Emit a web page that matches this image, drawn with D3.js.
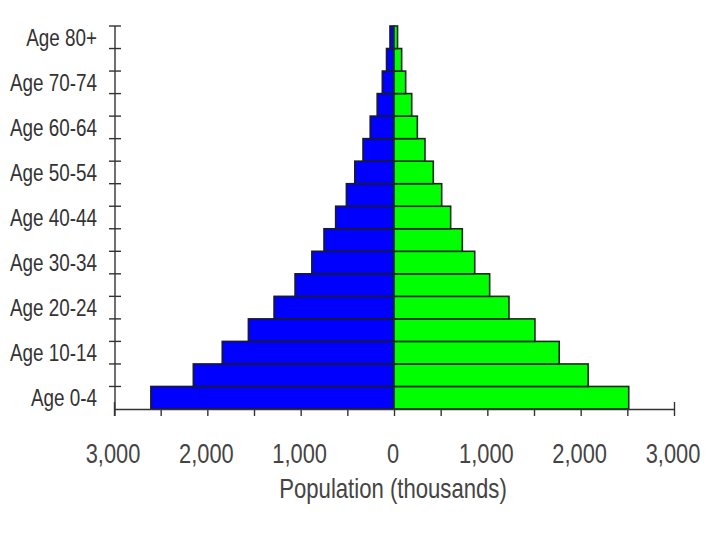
<!DOCTYPE html>
<html>
<head>
<meta charset="utf-8">
<script src="https://cdn.jsdelivr.net/npm/d3@7"></script>
<style>
  html, body { margin: 0; padding: 0; background: #fff; }
  svg { display: block; }
  text { font-family: 'Liberation Sans', Arial, sans-serif; }
</style>
</head>
<body>
<svg id="chart" width="720" height="540"></svg>
<script>
// ---- data (thousands) ----
const ageGroups = ["Age 0-4","Age 5-9","Age 10-14","Age 15-19","Age 20-24","Age 25-29","Age 30-34","Age 35-39",
  "Age 40-44","Age 45-49","Age 50-54","Age 55-59","Age 60-64","Age 65-69","Age 70-74","Age 75-79","Age 80+"];
const male   = [2605, 2150, 1840, 1560, 1285, 1060, 880, 750, 625, 510, 420, 332, 255, 180, 125, 80, 43];
const female = [2515, 2080, 1770, 1510, 1232, 1025, 865, 732, 607, 511, 421, 332, 250, 190, 125, 82, 38];
const xTickValues = [-3000, -2500, -2000, -1500, -1000, -500, 0, 500, 1000, 1500, 2000, 2500, 3000];
const xLabelValues = [-3000, -2000, -1000, 0, 1000, 2000, 3000];
const xTitle = "Population (thousands)";

const svg = d3.select("#chart");
const x = d3.scaleLinear().domain([-3000, 3000]).range([114, 674]);
const y = d3.scaleBand().domain(ageGroups).range([409, 26]).padding(0);
const axisColor = "#333";
const textColor = "#444";

// bars
const rows = ageGroups.map((g, i) => ({ g, m: male[i], f: female[i] }));
svg.append("g").selectAll("rect").data(rows).join("rect")
  .attr("x", d => x(-d.m)).attr("y", d => y(d.g))
  .attr("width", d => x(0) - x(-d.m)).attr("height", y.bandwidth())
  .attr("fill", "#0000ff").attr("stroke", "#1a1a2a").attr("stroke-width", 1.6);
svg.append("g").selectAll("rect").data(rows).join("rect")
  .attr("x", x(0)).attr("y", d => y(d.g))
  .attr("width", d => x(d.f) - x(0)).attr("height", y.bandwidth())
  .attr("fill", "#00ff00").attr("stroke", "#1a2a1a").attr("stroke-width", 1.6);

// bottom axis
const fmt = d3.format(",");
const xs = 0.78;
const xAxis = svg.append("g").attr("transform", `translate(0,${y.range()[0]})`)
  .call(d3.axisBottom(x).tickValues(xTickValues).tickSize(7).tickSizeOuter(0)
    .tickFormat(v => xLabelValues.includes(v) ? fmt(Math.abs(v)) : ""));
xAxis.select(".domain").attr("stroke", axisColor).attr("stroke-width", 1.4);
xAxis.selectAll(".tick line").attr("stroke", axisColor).attr("stroke-width", 1.4);
xAxis.selectAll(".tick").filter(v => Math.abs(v) === 3000).select("line").attr("y1", -7);
xAxis.selectAll(".tick text").attr("x", -1.5 / xs).attr("y", 54).attr("dy", null)
  .attr("transform", `scale(${xs},1)`)
  .style("font-size", "28px").attr("fill", textColor);

// x title
const ts = 0.82;
svg.append("text").attr("transform", `translate(${x(0) - 1},498) scale(${ts},1)`)
  .attr("text-anchor", "middle")
  .style("font-size", "27px").attr("fill", textColor).text(xTitle);

// left axis (labels every other group)
const ls = 0.82;
const ax = x(-3000) + 1;
const yAxis = svg.append("g").attr("transform", `translate(${ax},0)`)
  .call(d3.axisLeft(y).tickSize(0).tickFormat((d, i) => i % 2 === 0 ? d : ""));
yAxis.select(".domain").remove();
yAxis.selectAll(".tick text").attr("x", -18 / ls).attr("dy", "0.36em")
  .attr("transform", `scale(${ls},1)`)
  .style("font-size", "23px").attr("fill", axisColor);

// left axis line and boundary ticks
svg.append("line").attr("x1", ax).attr("x2", ax).attr("y1", y.range()[1]).attr("y2", y.range()[0] + 7)
  .attr("stroke", axisColor).attr("stroke-width", 1.4);
const bounds = ageGroups.map(g => y(g));
svg.append("g").selectAll("line").data(bounds).join("line")
  .attr("x1", ax - 6).attr("x2", ax + 6).attr("y1", d => d).attr("y2", d => d)
  .attr("stroke", axisColor).attr("stroke-width", 1.4);
</script>
</body>
</html>
